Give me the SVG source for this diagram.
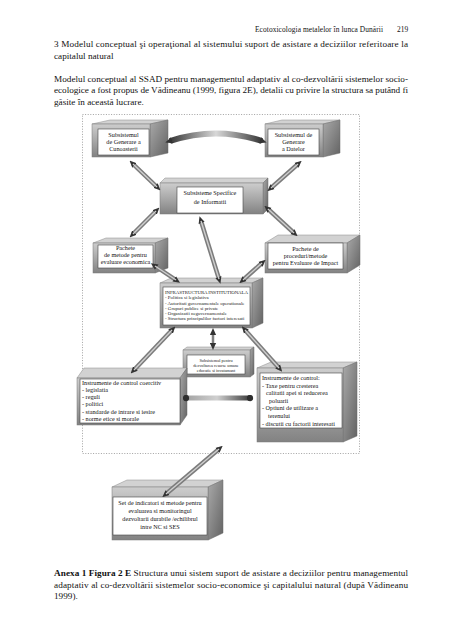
<svg xmlns="http://www.w3.org/2000/svg" width="452" height="640" viewBox="0 0 452 640">
<defs>
<style>
.pg{font-family:"Liberation Serif","Times New Roman",serif;fill:#111}
.body{font-size:9.2px}
.hdr{font-size:7.4px}
.lb{font-family:"Liberation Serif","Times New Roman",serif;font-size:6.2px;fill:#111}
.sm{font-family:"Liberation Serif","Times New Roman",serif;font-size:4.9px;fill:#222}
.xs{font-family:"Liberation Serif","Times New Roman",serif;font-size:4.3px;fill:#222}
.front{fill:url(#gFront);stroke:#7a7a7a;stroke-width:.5}
.top{fill:#d2d2d2;stroke:#8a8a8a;stroke-width:.5}
.side{fill:url(#gSide);stroke:#6a6a6a;stroke-width:.5}
.lab{fill:#fff;stroke:#444;stroke-width:.6}
.tube{fill:none;stroke:#7c7c7c;stroke-width:4.5;marker-start:url(#ah);marker-end:url(#ah)}
.core{fill:none;stroke:#cfcfcf;stroke-width:1.4}
.c{text-anchor:middle}
</style>
<linearGradient id="gFront" x1="0" y1="0" x2="0" y2="1">
<stop offset="0" stop-color="#cdcdcd"/><stop offset="0.45" stop-color="#acacac"/><stop offset="1" stop-color="#828282"/>
</linearGradient>
<linearGradient id="gSide" x1="0" y1="0" x2="1" y2="1">
<stop offset="0" stop-color="#aaaaaa"/><stop offset="1" stop-color="#626262"/>
</linearGradient>
<linearGradient id="gArc" gradientUnits="userSpaceOnUse" x1="168" y1="0" x2="264" y2="0">
<stop offset="0" stop-color="#303030"/><stop offset="0.5" stop-color="#d8d8d8"/><stop offset="1" stop-color="#303030"/>
</linearGradient>
<linearGradient id="gHor" gradientUnits="userSpaceOnUse" x1="180" y1="0" x2="254" y2="0">
<stop offset="0" stop-color="#9a9a9a"/><stop offset="0.5" stop-color="#d0d0d0"/><stop offset="1" stop-color="#2a2a2a"/>
</linearGradient>
<marker id="ah" viewBox="0 0 10 10" refX="3" refY="5" markerWidth="7" markerHeight="7" markerUnits="userSpaceOnUse" orient="auto-start-reverse">
<path d="M0,0.5 L10,5 L0,9.5 z" fill="#333"/>
</marker>
<marker id="kb" viewBox="0 0 10 10" refX="5" refY="5" markerWidth="7" markerHeight="7" markerUnits="userSpaceOnUse" orient="auto">
<circle cx="5" cy="5" r="4.5" fill="#2e2e2e"/>
</marker>
</defs>
<rect width="452" height="640" fill="#fff"/>

<g id="page-text" class="pg">
<text class="hdr" x="255" y="32" textLength="128">Ecotoxicologia metalelor în lunca Dunării</text>
<text class="hdr" x="397" y="32">219</text>
<text class="body" x="54" y="47" textLength="354" lengthAdjust="spacing">3 Modelul conceptual şi operaţional al sistemului suport de asistare a deciziilor referitoare la</text>
<text class="body" x="54" y="58.5">capitalul natural</text>
<text class="body" x="54" y="81.5" textLength="354" lengthAdjust="spacing">Modelul conceptual al SSAD pentru managementul adaptativ al co-dezvoltării sistemelor socio-</text>
<text class="body" x="54" y="93" textLength="354" lengthAdjust="spacing">ecologice a fost propus de Vădineanu (1999, figura 2E), detalii cu privire la structura sa putând fi</text>
<text class="body" x="54" y="104.5">găsite în această lucrare.</text>
<text class="body" x="54" y="576" textLength="354" lengthAdjust="spacing"><tspan font-weight="bold">Anexa 1 Figura 2 E</tspan> Structura unui sistem suport de asistare a deciziilor pentru managementul</text>
<text class="body" x="54" y="587.5" textLength="354" lengthAdjust="spacing">adaptativ al co-dezvoltării sistemelor socio-economice şi capitalului natural (după Vădineanu</text>
<text class="body" x="54" y="599">1999).</text>
</g>

<rect id="frame" x="82.5" y="114.5" width="277" height="339" fill="none" stroke="#8a8a8a" stroke-width=".8" stroke-dasharray="1 1.6"/>

<g id="n-cunoasterii">
<polygon class="top" points="92,124 110,120 168,120 150,124"/>
<polygon class="side" points="150,124 168,120 168,153 150,157"/>
<rect class="front" x="92" y="124" width="58" height="33"/>
<rect class="lab" x="98" y="129" width="51" height="26"/>
<text class="lb c" x="123.5" y="137">Subsistemul</text>
<text class="lb c" x="123.5" y="144">de Generare a</text>
<text class="lb c" x="123.5" y="151">Cunoasterii</text>
</g>

<g id="n-datelor">
<polygon class="top" points="265,124 282,120 340,120 323,124"/>
<polygon class="side" points="323,124 340,120 340,153 323,157"/>
<rect class="front" x="265" y="124" width="58" height="33"/>
<rect class="lab" x="268" y="129" width="51" height="26"/>
<text class="lb c" x="293.5" y="137">Subsistemul de</text>
<text class="lb c" x="293.5" y="144">Generare</text>
<text class="lb c" x="293.5" y="151">a Datelor</text>
</g>

<g id="n-informatii">
<polygon class="top" points="160,183 165,178 268,178 263,183"/>
<polygon class="side" points="263,183 268,178 268,209 263,214"/>
<rect class="front" x="160" y="183" width="103" height="31"/>
<rect class="lab" x="177" y="187" width="66" height="26"/>
<text class="lb c" x="210" y="195">Subsisteme Specifice</text>
<text class="lb c" x="210" y="204">de Informatii</text>
</g>

<g id="n-pachete-ec">
<polygon class="top" points="93,243 106,238 168,238 155,243"/>
<polygon class="side" points="155,243 168,238 168,268 155,273"/>
<rect class="front" x="93" y="243" width="62" height="30"/>
<rect class="lab" x="98" y="245" width="55" height="23"/>
<text class="lb c" x="125.5" y="250">Pachete</text>
<text class="lb c" x="125.5" y="257">de metode pentru</text>
<text class="lb c" x="125.5" y="264">evaluare economica</text>
</g>

<g id="n-pachete-impact">
<polygon class="top" points="265,243 278,235 360,235 347,243"/>
<polygon class="side" points="347,243 360,235 360,265 347,273"/>
<rect class="front" x="265" y="243" width="82" height="30"/>
<rect class="lab" x="268" y="243" width="75" height="26"/>
<text class="lb c" x="305.5" y="251">Pachete de</text>
<text class="lb c" x="305.5" y="258">proceduri/metode</text>
<text class="lb c" x="305.5" y="265">pentru Evaluare de Impact</text>
</g>

<g id="n-infrastructura">
<polygon class="top" points="160,283 171,278 263,278 252,283"/>
<polygon class="side" points="252,283 263,278 263,323 252,328"/>
<rect class="front" x="160" y="283" width="92" height="45"/>
<rect class="lab" x="163" y="287" width="87" height="38"/>
<text class="sm" x="165" y="294" textLength="83">INFRASTRUCTURA INSTITUTIONALA</text>
<text class="sm" x="165" y="299.3">- Politica si legislativa</text>
<text class="sm" x="165" y="304.5">- Autoritati guvernamentale operationale</text>
<text class="sm" x="165" y="309.7">- Grupuri publice si private</text>
<text class="sm" x="165" y="314.9">- Organizatii neguvernamentale</text>
<text class="sm" x="165" y="320.1">- Structura principalilor factori interesati</text>
</g>

<g id="n-resurse-umane">
<polygon class="top" points="183,350 187,347 254,347 250,350"/>
<polygon class="side" points="250,350 254,347 254,374 250,377"/>
<rect class="front" x="183" y="350" width="67" height="27"/>
<rect class="lab" x="187" y="355" width="58" height="19"/>
<text class="xs c" x="216" y="361.5">Subsistemul pentru</text>
<text class="xs c" x="216" y="366.5">dezvoltarea resurse umane</text>
<text class="xs c" x="216" y="371.5">educatie si invatamant</text>
</g>

<g id="n-control-coercitiv">
<polygon class="top" points="77,378 84,368 187,368 180,378"/>
<polygon class="side" points="180,378 187,368 187,415 180,425"/>
<rect class="front" x="77" y="378" width="103" height="47"/>
<rect class="lab" x="80" y="379" width="100" height="44"/>
<text class="lb" x="82" y="384.5">Instrumente de control  coercitiv</text>
<text class="lb" x="82" y="391.8">- legislatia</text>
<text class="lb" x="82" y="399.1">- reguli</text>
<text class="lb" x="82" y="406.4">- politici</text>
<text class="lb" x="82" y="413.7">- standarde de intrare si iesire</text>
<text class="lb" x="82" y="421">- norme etice si morale</text>
</g>

<g id="n-control">
<polygon class="top" points="257,368 271,362 357,362 343,368"/>
<polygon class="side" points="343,368 357,362 357,436 343,442"/>
<rect class="front" x="257" y="368" width="86" height="74"/>
<rect class="lab" x="260" y="373" width="82" height="55"/>
<text class="lb" x="262" y="380">Instrumente de control:</text>
<text class="lb" x="262" y="387.6">- Taxe pentru cresterea</text>
<text class="lb" x="266" y="395.2">calitatii apei si reducerea</text>
<text class="lb" x="269" y="402.8">poluarii</text>
<text class="lb" x="262" y="410.4">- Optiuni de utilizare a</text>
<text class="lb" x="268" y="418">terenului</text>
<text class="lb" x="262" y="425.6">- discutii cu factorii interesati</text>
</g>

<g id="n-indicatori">
<polygon class="top" points="112,487 127,480 223,480 208,487"/>
<polygon class="side" points="208,487 223,480 223,533 208,540"/>
<rect class="front" x="112" y="487" width="96" height="53"/>
<rect class="lab" x="113" y="497" width="94" height="38"/>
<text class="lb c" x="160" y="505">Set de indicatori si metode pentru</text>
<text class="lb c" x="160" y="513">evaluarea si monitoringul</text>
<text class="lb c" x="160" y="521">dezvoltarii durabile /echilibrul</text>
<text class="lb c" x="160" y="529">intre NC si SES</text>
</g>

<g id="connectors">
<path d="M170,141 Q216,126 262,141" fill="none" stroke="url(#gArc)" stroke-width="6" marker-start="url(#ah)" marker-end="url(#ah)"/>
<path class="tube" d="M133,164 L157,187"/><path class="core" d="M133,164 L157,187"/>
<path class="tube" d="M298,164 L271,188"/><path class="core" d="M298,164 L271,188"/>
<path class="tube" d="M156,211 L133,234"/><path class="core" d="M156,211 L133,234"/>
<path class="tube" d="M268,209 L294,233"/><path class="core" d="M268,209 L294,233"/>
<path class="tube" d="M201,221 L219,279"/><path class="core" d="M201,221 L219,279"/>
<path class="tube" d="M155,266 L176,280"/><path class="core" d="M155,266 L176,280"/>
<path class="tube" d="M262,263 L243,280"/><path class="core" d="M262,263 L243,280"/>
<path fill="none" stroke="#808080" stroke-width="2.5" marker-start="url(#ah)" marker-end="url(#ah)" d="M213,333 L213,345"/>
<path class="tube" d="M172,330 L134,370"/><path class="core" d="M172,330 L134,370"/>
<path class="tube" d="M245,330 L279,368"/><path class="core" d="M245,330 L279,368"/>
<path d="M186,398 L250,398" fill="none" stroke="url(#gHor)" stroke-width="5" marker-start="url(#kb)" marker-end="url(#kb)"/>
<path class="tube" d="M219,449 L166,494"/><path class="core" d="M219,449 L166,494"/>
</g>
</svg>
